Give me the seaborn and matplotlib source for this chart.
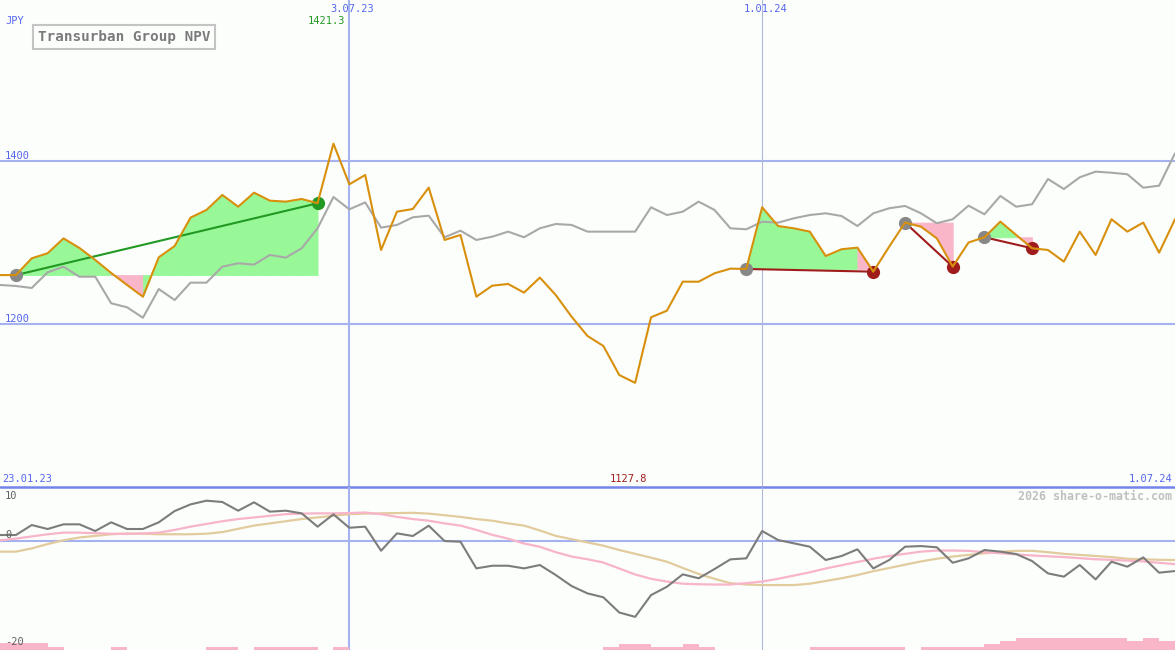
import numpy as np
import pandas as pd
import seaborn as sns
import matplotlib.pyplot as plt

# weekly closes, Transurban Group NPV in JPY
dates = pd.date_range('2023-01-30', periods=75, freq='7D')
price = [1260.0, 1260.0, 1280.6, 1286.8, 1305.0, 1293.3, 1278.5, 1262.6, 1247.9, 1233.5,
         1281.8, 1295.7, 1330.5, 1339.9, 1358.3, 1343.9, 1361.1, 1351.3, 1350.1, 1353.4,
         1348.1, 1421.3, 1371.4, 1382.8, 1290.8, 1337.8, 1341.1, 1367.3, 1303.1, 1309.2,
         1233.5, 1247.0, 1249.1, 1238.5, 1256.9, 1235.6, 1208.9, 1185.3, 1173.0, 1137.4,
         1127.8, 1208.2, 1216.3, 1251.9, 1251.9, 1262.2, 1267.9, 1267.5, 1343.2, 1320.2,
         1317.4, 1313.3, 1283.4, 1291.7, 1293.7, 1264.2, 1294.9, 1324.4, 1319.4, 1305.1,
         1270.4, 1300.0, 1306.4, 1325.6, 1309.2, 1292.9, 1290.8, 1276.5, 1313.3, 1284.7,
         1328.5, 1313.3, 1324.4, 1287.5, 1328.5]
# comparison index, rescaled to price
index_line = [1247.9, 1246.6, 1244.2, 1263.4, 1270.3, 1258.0, 1258.0, 1225.4, 1220.5, 1207.7,
              1242.9, 1229.4, 1250.7, 1250.7, 1270.3, 1274.5, 1272.8, 1284.7, 1281.4, 1292.9,
              1317.4, 1355.8, 1340.7, 1349.1, 1318.2, 1321.5, 1330.9, 1332.9, 1306.4, 1314.5,
              1303.1, 1307.1, 1313.3, 1306.4, 1317.4, 1322.7, 1321.5, 1313.3, 1313.3, 1313.3,
              1313.3, 1343.2, 1333.7, 1337.8, 1350.1, 1339.9, 1317.4, 1316.2, 1325.5, 1324.3,
              1329.7, 1333.7, 1335.8, 1332.5, 1320.2, 1335.8, 1342.0, 1344.8, 1335.8, 1323.6,
              1328.5, 1345.2, 1334.6, 1357.1, 1343.9, 1346.9, 1377.9, 1365.6, 1380.0, 1386.9,
              1385.6, 1383.7, 1367.2, 1369.7, 1409.4]

# trend segments (week index of start / end)
trend_start = [1, 47, 57, 62]
trend_end = [20, 55, 60, 65]

# lower panel
momentum = [1.16, 1.16, 3.0, 2.27, 3.13, 3.13, 1.9, 3.5, 2.27, 2.27,
            3.5, 5.58, 6.8, 7.48, 7.24, 5.64, 7.18, 5.46, 5.64, 5.15,
            2.7, 4.97, 2.5, 2.7, -1.73, 1.47, 0.98, 2.88, 0.05, -0.07,
            -4.98, -4.49, -4.49, -4.98, -4.36, -6.2, -8.23, -9.58, -10.3, -13.1,
            -13.9, -9.9, -8.36, -6.08, -6.8, -5.1, -3.32, -3.13, 1.9, 0.24,
            -0.37, -0.99, -3.44, -2.7, -1.47, -4.98, -3.44, -0.99, -0.87, -1.1,
            -3.94, -3.13, -1.6, -1.9, -2.34, -3.63, -5.9, -6.5, -4.36, -7.0,
            -3.75, -4.67, -2.95, -5.77, -5.47]
avg_fast = [0.2, 0.5, 0.9, 1.3, 1.6, 1.6, 1.5, 1.4, 1.35, 1.45,
            1.6, 2.1, 2.7, 3.2, 3.7, 4.1, 4.4, 4.7, 5.0, 5.1,
            5.15, 5.15, 5.2, 5.3, 5.0, 4.5, 4.1, 3.8, 3.3, 2.9,
            2.1, 1.2, 0.5, -0.4, -1.0, -2.0, -2.8, -3.3, -3.9, -5.0,
            -6.1, -6.9, -7.4, -7.8, -7.9, -7.95, -7.95, -7.7, -7.4, -6.9,
            -6.3, -5.7, -5.0, -4.4, -3.8, -3.2, -2.7, -2.3, -1.9, -1.7,
            -1.7, -1.75, -2.0, -2.2, -2.4, -2.6, -2.75, -2.9, -3.1, -3.3,
            -3.4, -3.55, -3.7, -3.95, -4.2]
avg_slow = [-1.9, -1.9, -1.3, -0.5, 0.2, 0.7, 1.0, 1.3, 1.45, 1.4,
            1.3, 1.3, 1.3, 1.4, 1.7, 2.3, 2.9, 3.3, 3.7, 4.1,
            4.4, 4.7, 5.0, 5.1, 5.15, 5.2, 5.25, 5.1, 4.8, 4.5,
            4.1, 3.8, 3.3, 2.9, 2.0, 1.0, 0.4, -0.2, -0.8, -1.6,
            -2.3, -3.0, -3.75, -4.9, -6.0, -6.9, -7.7, -7.95, -8.05, -8.05,
            -8.05, -7.8, -7.3, -6.8, -6.2, -5.5, -4.9, -4.3, -3.7, -3.2,
            -2.8, -2.5, -2.2, -1.9, -1.75, -1.75, -2.0, -2.3, -2.5, -2.7,
            -2.9, -3.2, -3.3, -3.4, -3.45]
bar_height = [1.35, 1.35, 1.35, 0.5, 0, 0, 0, 0.5, 0, 0,
              0, 0, 0, 0.5, 0.5, 0, 0.5, 0.5, 0.5, 0.5,
              0, 0.5, 0, 0, 0, 0, 0, 0, 0, 0,
              0, 0, 0, 0, 0, 0, 0, 0, 0.5, 1.1,
              1.1, 0.5, 0.5, 1.1, 0.5, 0, 0, 0, 0, 0,
              0, 0.5, 0.5, 0.5, 0.5, 0.5, 0.5, 0, 0.5, 0.5,
              0.5, 0.5, 1.1, 1.65, 2.2, 2.2, 2.2, 2.2, 2.2, 2.2,
              2.2, 1.65, 2.2, 1.65]

sns.set_style('white')
plt.rcParams['font.family'] = ['DejaVu Sans Mono']

W, H = 1175, 650
bg = '#fcfefc'
blue_txt = '#5566ee'
grid_c = '#a4b2f0'
orange = '#d8900c'
green_fill = '#98f898'
pink_fill = '#f9b6c8'
dark_red = '#a01c1c'
green_line = '#229922'

price = np.array(price)
fig = plt.figure(figsize=(W / 100, H / 100), dpi=100, facecolor=bg)
ax1 = fig.add_axes([0, 163 / H, 1, 487 / H])
ax2 = fig.add_axes([0, 0, 1, 163 / H])
for ax in (ax1, ax2):
    ax.axis('off')
    ax.set_xlim(dates[0], dates[-1])
ax1.set_ylim(1000, 1597.5)
ax2.set_ylim(-20, 10)

# grid
for v in (1400, 1200):
    ax1.axhline(v, color=grid_c, lw=1.5, zorder=0)
ax2.axhline(0, color=grid_c, lw=1.5, zorder=0)
for ax in (ax1, ax2):
    ax.axvline(pd.Timestamp('2023-07-03'), color=grid_c, lw=1.5, zorder=0)
    ax.axvline(pd.Timestamp('2024-01-01'), color='#b0b8dc', lw=0.8, zorder=0)
ax1.axhline(1000, color='#7484ea', lw=1.8, clip_on=False, zorder=5)

# trend fills, one quad per week, coloured by where the week ends
for s, e in zip(trend_start, trend_end):
    base = price[s]
    for i in range(s, e):
        c = green_fill if price[i + 1] >= base else pink_fill
        ax1.fill_between(dates[i:i + 2], price[i:i + 2], base, color=c, ec=c, lw=0.6, zorder=1)

sns.lineplot(x=dates, y=index_line, ax=ax1, color='#a8a8a8', lw=1.5, zorder=2)

for s, e in zip(trend_start, trend_end):
    c = green_line if price[e] >= price[s] else dark_red
    ax1.plot([dates[s], dates[e]], [price[s], price[e]], color=c, lw=1.5, zorder=3)
    ax1.plot(dates[s], price[s], 'o', color='#888888', ms=9.5, mew=0, zorder=3)
    ax1.plot(dates[e], price[e], 'o', color=c, ms=9.5, mew=0, zorder=3)

sns.lineplot(x=dates, y=price, ax=ax1, color=orange, lw=1.5, zorder=4)

# lower panel
ax2.bar(dates[:-1], bar_height, bottom=-20, width=7, align='edge', color=pink_fill, lw=0, zorder=1)
sns.lineplot(x=dates, y=avg_slow, ax=ax2, color='#e2cc9e', lw=1.6, zorder=2)
sns.lineplot(x=dates, y=avg_fast, ax=ax2, color='#f8b4c8', lw=1.6, zorder=2)
sns.lineplot(x=dates, y=momentum, ax=ax2, color='#7c7c7c', lw=1.5, zorder=3)

# texts
def ftxt(x, y, s, **kw):
    fig.text(x / W, 1 - y / H, s, va='center', **kw)

fs = 7.5
ftxt(5, 21, 'JPY', color=blue_txt, fontsize=fs)
ftxt(38, 37, 'Transurban Group NPV', color='#7a7a7a', fontsize=10.3, weight='bold',
     bbox=dict(boxstyle='square,pad=0.32', fc='none', ec='#c4c4c4', lw=1.5))
ftxt(5, 156, '1400', color=blue_txt, fontsize=fs)
ftxt(5, 319, '1200', color=blue_txt, fontsize=fs)
ftxt(2, 479, '23.01.23', color=blue_txt, fontsize=fs)
ftxt(1172, 479, '1.07.24', color=blue_txt, fontsize=fs, ha='right')
ftxt(5, 496, '10', color='#606060', fontsize=fs)
ftxt(5, 535, '0', color='#606060', fontsize=fs)
ftxt(5, 642, '-20', color='#606060', fontsize=fs)
ftxt(1172, 496, '2026 share-o-matic.com', color='#c0c0c0', fontsize=8.4, weight='bold', ha='right')

for d, lab in [('2023-07-03', '3.07.23'), ('2024-01-01', '1.01.24')]:
    ax1.annotate(lab, xy=(pd.Timestamp(d), H - 9), xycoords=('data', 'figure pixels'),
                 xytext=(3, 0), textcoords='offset pixels',
                 ha='center', va='center', color=blue_txt, fontsize=fs)

imax, imin = int(price.argmax()), int(price.argmin())
ax1.annotate(f'{price[imax]:.1f}', xy=(dates[imax], H - 21), xycoords=('data', 'figure pixels'),
             xytext=(12, 0), textcoords='offset pixels', ha='right', va='center',
             color=green_line, fontsize=fs)
ax1.annotate(f'{price[imin]:.1f}', xy=(dates[imin], H - 479), xycoords=('data', 'figure pixels'),
             xytext=(-7, 0), textcoords='offset pixels', ha='center', va='center',
             color=dark_red, fontsize=fs)

fig.savefig('out.png', dpi=100, facecolor=bg)
